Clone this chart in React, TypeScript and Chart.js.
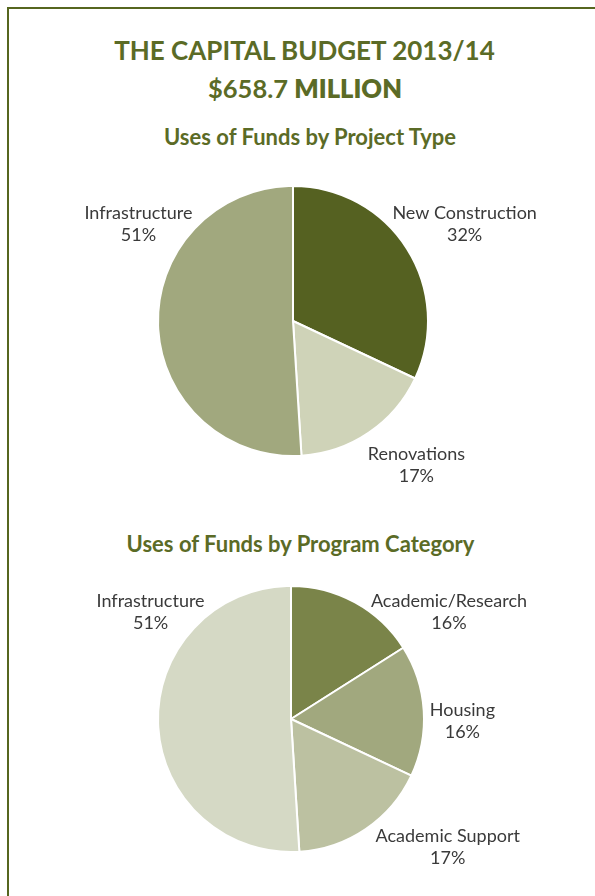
import React, { useEffect, useRef } from "react";
import { Chart, registerables } from "chart.js";

Chart.register(...registerables);

// ---- data ----
const mainTitle = "THE CAPITAL BUDGET 2013/14";
const totalAmount = "$658.7";
const totalUnit = "MILLION";

const projectTitle = "Uses of Funds by Project Type";
const projectTypes = ["New Construction", "Renovations", "Infrastructure"];
const projectShares = [32, 17, 51];
const projectColors = ["#556121", "#cfd3b8", "#a1a87e"];

const programTitle = "Uses of Funds by Program Category";
const programCategories = ["Academic/Research", "Housing", "Academic Support", "Infrastructure"];
const programShares = [16, 16, 17, 51];
const programColors = ["#7a8449", "#a1a87e", "#bcc1a1", "#d5d9c5"];

// label placement (angle clockwise from top in degrees, distance as multiple of radius)
const projectLabelAngles = [62, 140.6, 300.6];
const projectLabelDist = [1.44, 1.44, 1.33];
const programLabelAngles = [57.4, 92.7, 130.5, 305.7];
const programLabelDist = [1.41, 1.29, 1.55, 1.3];

const OLIVE = "#5b6b26";
const LABEL_FONT = "400 18px Lato, 'Open Sans', sans-serif";

function makeSliceLabels(angles: number[], dists: number[]) {
  return {
    id: "sliceLabels",
    afterDatasetsDraw(chart: any) {
      const ctx = chart.ctx;
      const meta = chart.getDatasetMeta(0);
      const data = chart.data.datasets[0].data as number[];
      ctx.save();
      ctx.font = LABEL_FONT;
      ctx.fillStyle = "#3a3a3a";
      ctx.textAlign = "center";
      ctx.textBaseline = "alphabetic";
      meta.data.forEach((arc: any, i: number) => {
        const { x, y, outerRadius } = arc.getProps(["x", "y", "outerRadius"], true);
        const a = (angles[i] * Math.PI) / 180;
        const d = dists[i] * outerRadius;
        const lx = x + Math.sin(a) * d;
        const ly = y - Math.cos(a) * d;
        ctx.fillText(String(chart.data.labels[i]), lx, ly - 11);
        ctx.fillText(data[i] + "%", lx, ly + 11);
      });
      ctx.restore();
    },
  };
}

function PieChart(props: {
  labels: string[];
  values: number[];
  colors: string[];
  angles: number[];
  dists: number[];
  padding: { left: number; right: number; top: number; bottom: number };
  top: number;
  height: number;
}) {
  const ref = useRef<HTMLCanvasElement | null>(null);
  useEffect(() => {
    if (!ref.current) return;
    const chart = new Chart(ref.current, {
      type: "pie",
      data: {
        labels: props.labels,
        datasets: [
          {
            data: props.values,
            backgroundColor: props.colors,
            borderColor: "#ffffff",
            borderWidth: 2,
            hoverOffset: 0,
            offset: 0,
          },
        ],
      },
      options: {
        responsive: false,
        animation: false,
        events: [],
        layout: { padding: props.padding },
        plugins: {
          legend: { display: false },
          tooltip: { enabled: false },
          title: { display: false },
        },
      },
      plugins: [makeSliceLabels(props.angles, props.dists)],
    });
    return () => chart.destroy();
  }, []);
  return (
    <canvas
      ref={ref}
      width={595}
      height={props.height}
      style={{ position: "absolute", left: 0, top: props.top, width: 595, height: props.height }}
    />
  );
}

const headStyle: React.CSSProperties = {
  position: "absolute",
  fontFamily: "Lato, 'Open Sans', sans-serif",
  fontWeight: 700,
  color: OLIVE,
  textAlign: "center",
  whiteSpace: "nowrap",
  width: 500,
};

export default function App() {
  return (
    <div
      style={{
        position: "absolute",
        left: 0,
        top: 0,
        width: 595,
        height: 896,
        overflow: "hidden",
        background: "#ffffff",
      }}
    >
      <div
        style={{
          position: "absolute",
          left: 7,
          top: 7,
          width: 700,
          height: 1000,
          borderLeft: "2px solid #56661f",
          borderTop: "2px solid #56661f",
        }}
      />
      <div style={{ ...headStyle, left: 304.5 - 250, top: 37, fontSize: 26, lineHeight: "26px" }}>{mainTitle}</div>
      <div style={{ ...headStyle, left: 305 - 250, top: 75.5, fontSize: 25.5, lineHeight: "25.5px" }}>
        <span style={{ fontWeight: 700 }}>{totalAmount}</span> <span style={{ fontWeight: 800 }}>{totalUnit}</span>
      </div>
      <div style={{ ...headStyle, left: 310 - 250, top: 125.5, fontSize: 22, lineHeight: "22px" }}>{projectTitle}</div>
      <div style={{ ...headStyle, left: 300.5 - 250, top: 532.5, fontSize: 22, lineHeight: "22px" }}>{programTitle}</div>

      <PieChart
        labels={projectTypes}
        values={projectShares}
        colors={projectColors}
        angles={projectLabelAngles}
        dists={projectLabelDist}
        padding={{ left: 157, right: 166, top: 15, bottom: 43 }}
        top={170}
        height={330}
      />
      <PieChart
        labels={programCategories}
        values={programShares}
        colors={programColors}
        angles={programLabelAngles}
        dists={programLabelDist}
        padding={{ left: 157, right: 170, top: 20, bottom: 42 }}
        top={565}
        height={330}
      />
    </div>
  );
}
